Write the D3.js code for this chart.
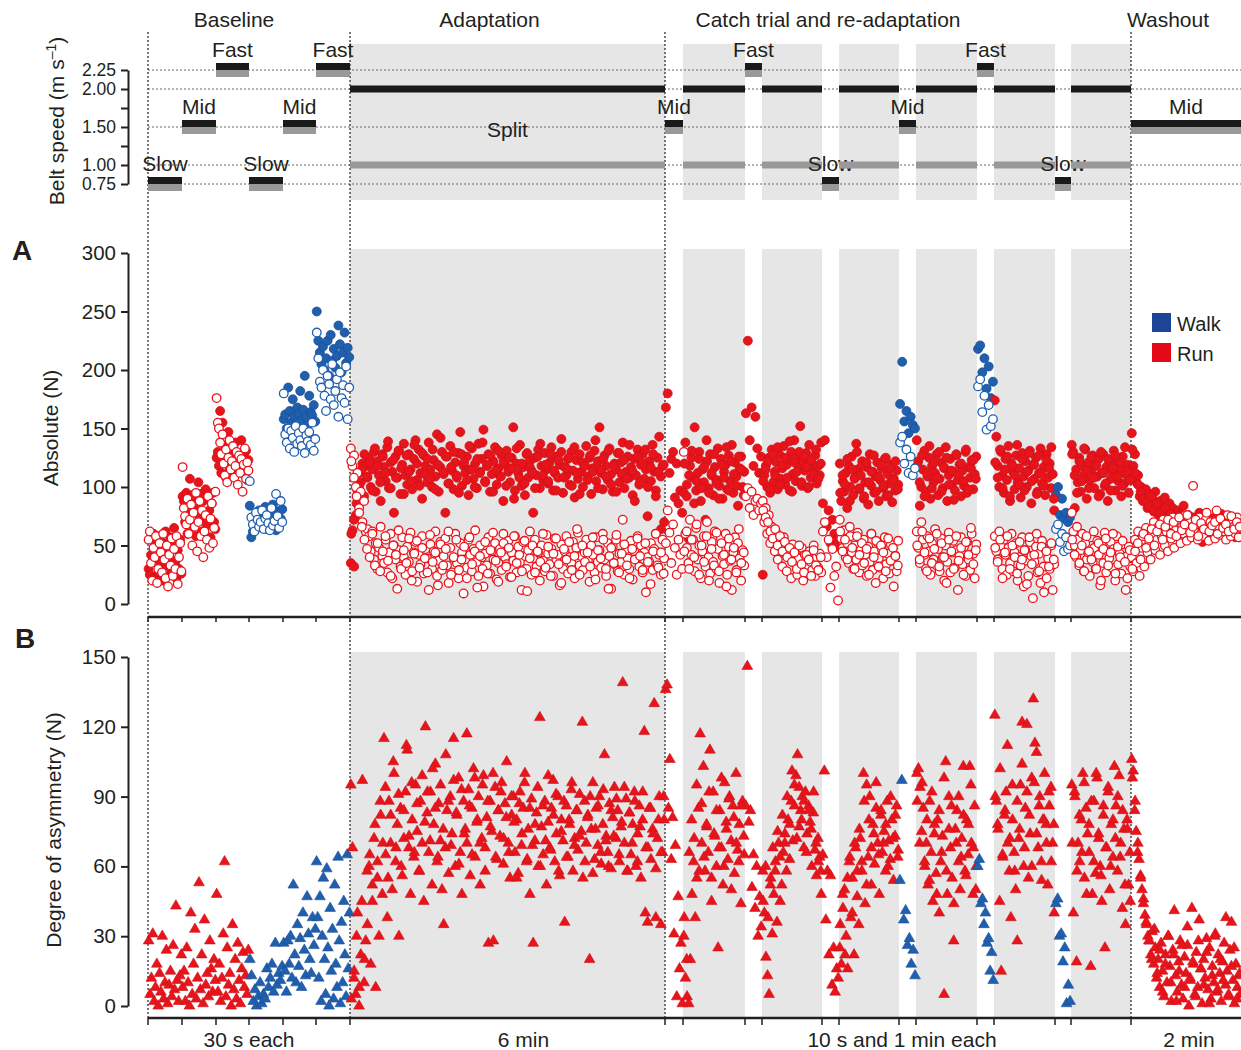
<!DOCTYPE html>
<html>
<head>
<meta charset="utf-8">
<script src="https://cdn.jsdelivr.net/npm/d3@7"></script>
<style>
  body { margin: 0; background: #fff; }
  svg text { font-family: "Liberation Sans", Arial, sans-serif; fill: #231f20; }
</style>
</head>
<body>
<svg id="chart" width="1241" height="1050"></svg>
<script>
// ---- segments (width in strides), belt speeds, gait ----
const segLen = [34, 34, 33, 34, 33, 34, 315, 18, 62, 17, 60, 17, 60, 17, 61, 17, 61, 16, 60, 110];
const segFast = [0.75, 1.5, 2.25, 0.75, 1.5, 2.25, 2, 1.5, 2, 2.25, 2, 0.75, 2, 1.5, 2, 2.25, 2, 0.75, 2, 1.5];
const segSlow = [0.75, 1.5, 2.25, 0.75, 1.5, 2.25, 1, 1.5, 1, 2.25, 1, 0.75, 1, 1.5, 1, 2.25, 1, 0.75, 1, 1.5];
const segGait = ["run", "run", "run", "walk", "walk", "walk", "run", "run", "run", "run", "run", "run", "run",
  "walk", "run", "walk", "run", "walk", "run", "run"];
const segLabel = ["Slow", "Mid", "Fast", "Slow", "Mid", "Fast", "Split", "Mid", "", "Fast", "", "Slow", "",
  "Mid", "", "Fast", "", "Slow", "", "Mid"];

const phases = ["Baseline", "Adaptation", "Catch trial and re-adaptation", "Washout"];
const phaseFirstSeg = [0, 6, 7, 19];
const phaseDurations = ["30 s each", "6 min", "10 s and 1 min each", "2 min"];
const speedLines = [0.75, 1, 1.5, 2, 2.25];
const speedTicks = [0.75, 1, 1.25, 1.5, 1.75, 2, 2.25];
const speedTickLabels = [0.75, 1, 1.5, 2, 2.25];

// ---- panel A: absolute force (N), filled = one leg, open = other leg ----
const filledN = [
  [30,25,42,55,60,22,38,48,27,58,35,20,45,52,62,33,24,40,57,28,50,65,36,22,46,30,55,26],
  [92,88,70,95,60,85,107,78,93,66,90,58,82,104,75,94,62,88,72,98,67,91,80,57,86,95,70,64],
  [125,130,118,165,112,155,122,135,108,128,147,115,120,132,126,110,138,119,124,129,113,140,121,127,116,131,106,123],
  [84,57,62,70,75,68,80,72,65,78,83,64,71,76,69,85,74,63,79,67,73,81],
  [158,162,150,185,165,155,175,160,152,168,163,182,157,166,195,160,153,178,164,161,170,156],
  [250,225,215,205,220,200,210,225,195,230,208,218,202,212,238,222,198,215,232,206,219,211],
  [35,63,32,76,97,112,104,120,92,118, 108,125,100,115,130,96,122,110,88,128,
   117,105,134,99,121,113,78,126,108,131, 94,119,137,110,102,128,115,98,124,140,
   106,132,112,90,127,118,104,138,115,100, 123,109,145,96,117,130,111,78,126,103,
   135,114,98,121,108,129,147,101,118,112, 126,93,115,133,107,120,99,137,113,124,
   149,105,118,128,96,111,122,134,102,116, 109,127,88,119,131,113,104,125,151,97,
   120,112,136,101,117,93,128,108,122,114, 78,125,110,132,99,118,106,129,115,103,
   121,134,97,112,126,108,119,141,95,117, 110,124,102,130,114,91,123,107,128,113,
   100,119,135,109,125,94,116,131,105,122, 151,112,98,127,118,106,133,111,96,120,
   115,129,104,121,138,99,113,126,108,117, 93,124,110,132,102,119,128,107,115,75,
   122,105,136,113,97,125,143,109,118,70],
  [168,180,112,124,130,91,120,86,97,78],
  [95,138,102,56,118,125,108,151,97,112,130,88,115,104,72,122,99,128,110,93,117,106,133,101,124,90,113,119,98,127,105,136,95,121,109,84,116,126,100,113],
  [163,225,140,168,118,160,133,112,126],
  [25,110,118,100,125,95,132,104,113,121,98,128,107,116,135,102,119,124,97,130,111,140,105,126,117,152,101,122,114,129,99,136,108,120,113,127,103,118,110,138],
  [86,140,66,80,52,72,60,49,56],
  [120,88,105,96,112,82,118,100,126,93,108,137,115,98,110,122,90,104,117,85,128,101,113,95,109,121,88,106,116,99,124,92,111,103,119,87,107,97,114,102],
  [171,207,156,165,146,160,153,150],
  [140,122,84,100,115,131,96,109,125,90,118,104,112,128,93,107,121,99,116,134,88,110,124,102,113,97,127,106,119,92,114,101,130,95,117,108,123,98,111,126],
  [218,221,198,210,184,203,176,190],
  [174,143,118,100,130,110,95,124,106,135,88,120,113,98,127,104,116,91,129,109,122,100,114,131,86,119,107,125,96,112,133,103,117,93,128,108,120,99,111,80],
  [93,100,76,90,73,78,70,74],
  [136,130,82,115,104,125,96,118,110,132,90,121,106,114,127,99,119,109,124,94,112,128,101,117,88,122,107,113,131,97,120,105,116,92,126,103,111,119,95,108],
  [146,118,128,104,110,92,100,88,95,98,82,94,86,90,79,96,85,76,88,84,80,91,74,78,86,70,82,75,68,80,73,77,65,84,71,
   62,76,69,58,74,66,72,64,78,70,53,67,75,62,71,68,60,73,66,59,70,64,77,61,68,72,58,66,74,63,69,57,71,65,62]
];
const openN = [
  [55,62,35,20,48,40,58,18,30,52,44,27,60,38,22,50,15,42,33,56,24,47,30,58,17,40,52,28],
  [117,82,75,68,90,60,72,85,50,78,66,95,45,70,88,58,80,40,62,76,55,92,48,73,86,52,65,96],
  [176,155,150,138,128,145,120,110,132,104,125,140,115,122,135,108,118,130,102,127,112,124,96,119,133,107,121,114],
  [105,74,68,62,78,72,66,70,80,64,73,76,69,63,82,67,71,94,75,65,88,70],
  [180,145,138,150,133,148,142,130,152,137,146,140,135,150,129,144,139,147,136,155,131,141],
  [232,210,190,185,200,178,165,195,188,175,205,170,182,192,160,198,176,187,172,203,158,185],
  [133,118,127,100,112,82,96,70,88,62, 64,58,45,62,38,52,30,48,66,41,
   35,55,27,44,60,22,50,38,13,46, 32,57,40,25,49,36,61,28,44,53,
   19,42,34,58,26,47,39,12,51,30, 45,62,24,37,53,29,41,56,33,18,
   48,27,39,60,35,22,52,44,9,38, 31,55,42,28,47,63,36,24,50,40,
   15,43,33,57,26,45,38,52,21,35, 47,29,60,40,34,54,23,44,37,58,
   27,49,36,12,53,41,30,46,62,25, 39,55,32,44,20,50,37,28,59,43,
   34,47,24,56,38,42,16,51,30,45, 58,26,40,35,53,22,48,61,33,41,
   29,44,55,37,19,50,42,27,57,36, 46,31,60,38,24,52,41,13,49,34,
   55,28,43,36,72,25,47,39,30,54, 21,45,38,58,32,50,27,44,10,40,
   36,52,29,47,60,33,42,25,55,39],
  [52,80,61,35,68,48,25,55,42,30],
  [130,60,48,35,72,42,55,28,65,38,50,22,45,58,32,70,40,26,53,36,62,30,47,18,56,41,34,60,25,49,37,12,44,57,29,52,39,20,46,33],
  [92,99,82,96,76,88,90,80,86],
  [88,70,82,60,76,52,66,58,45,61,38,55,49,32,57,43,28,47,40,22,51,35,44,25,39,30,48,20,42,33,26,45,36,29,50,24,40,31,43,27],
  [62,70,40,55,14,47,24,32,3],
  [72,56,48,63,40,52,35,58,44,30,50,38,61,27,46,33,55,42,24,49,36,60,29,45,18,53,39,31,47,22,57,34,43,26,51,37,15,41,28,54],
  [138,143,120,132,112,126,110,116],
  [62,48,35,70,55,42,30,58,45,25,52,38,64,33,47,28,56,40,20,50,36,61,27,44,54,31,46,12,41,57,34,49,24,53,38,29,60,43,22,51],
  [186,192,164,178,149,170,152,158],
  [58,45,38,62,50,30,55,42,25,48,35,60,28,44,52,20,40,33,57,15,46,37,24,53,41,5,36,49,27,43,18,54,32,47,22,39,30,50,12,34],
  [64,68,53,60,45,57,47,50],
  [78,62,50,40,55,33,46,60,28,52,38,44,24,57,36,48,30,54,42,16,50,35,61,27,45,39,53,31,47,20,58,34,43,26,51,37,12,41,49,32],
  [40,28,55,35,62,24,48,58,32,65,44,52,38,60,70,46,55,66,42,58,72,50,62,45,68,56,74,48,63,58,70,52,66,60,76,
   54,64,71,57,101,62,68,55,74,60,66,58,72,63,54,70,61,67,56,80,64,59,73,62,68,55,76,63,58,71,66,60,74,57,65]
];
// extra strides read between the ones above (split-belt and washout periods)
const filledMore = [[],[],[],[],[],[],
  [60,72,86,101,115,128,109,121,97,133, 118,104,126,112,139,99,123,108,131,116,
   94,127,113,105,136,120,101,129,111,124, 107,132,98,119,142,113,126,103,117,130,
   110,95,128,121,106,135,115,100,124,112, 138,104,119,127,96,114,131,109,122,101,
   125,116,90,133,108,120,103,129,117,112, 99,126,137,110,119,105,128,114,97,123,
   130,108,116,125,101,134,112,94,121,118, 106,127,113,140,99,115,124,109,131,102,
   118,96,129,111,123,107,136,114,88,126, 104,120,132,100,117,128,92,113,64,119],
  [],
  [120,92,110,131,86,105,124,99,117,140,95,112,128,103,90,119,108,134,97,122,111,101,126,115,93],
  [],
  [105,115,122,98,128,110,134,102,119,125,108,139,96,121,113,130,104,126,117,100,123,111,132,107,120],
  [],
  [95,110,102,124,88,115,107,130,99,118,92,121,104,113,127,96,109,119,101,125,93,116,106,122,98],
  [],
  [118,104,127,92,112,135,99,121,108,130,96,117,125,102,114,89,128,110,120,105,132,98,116,123,107],
  [],
  [121,108,132,99,115,126,92,118,110,136,102,124,97,113,129,105,119,94,127,111,101,123,116,134,90],
  [],
  [128,110,95,122,105,133,114,99,126,108,118,92,130,112,103,124,97,116,127,109,121,101,134,113,106],
  [132,112,102,96,90,87,83,92,80,86,78,74,82,70,77,72,66,75,69,63,73,67,60,71,65,68,62,70,58,66,74,61,69,64,72,59,67,63,70,60]
];
const openMore = [[],[],[],[],[],[],
  [122,108,92,78,66,55,47,40,60,33, 52,28,45,58,37,24,50,42,63,30,
   46,35,56,20,43,54,31,48,39,27, 59,36,44,16,51,33,47,62,25,40,
   55,29,38,49,22,57,34,45,14,41, 30,53,26,46,61,37,19,44,52,32,
   48,23,58,35,42,28,54,11,39,50, 27,45,36,60,31,49,24,43,56,34,
   18,47,38,53,29,41,64,25,50,36, 44,32,57,21,46,39,55,30,13,48,
   35,59,27,43,51,33,22,47,38,56, 41,29,52,36,17,45,60,31,44,26],
  [],
  [45,62,30,55,40,68,25,50,36,58,20,47,33,61,28,52,42,15,56,38,48,27,64,35,44],
  [],
  [80,74,70,62,56,64,50,58,45,53,40,48,36,44,30,50,34,27,42,38,24,46,33,29,40],
  [],
  [62,45,55,38,66,48,30,58,42,52,35,47,25,60,40,54,32,50,44,28,56,37,48,41,33],
  [],
  [50,38,62,44,28,56,35,47,60,32,52,40,18,55,45,30,58,37,48,25,53,42,65,34,46],
  [],
  [48,36,55,22,44,58,30,50,40,26,53,38,46,17,57,34,42,60,28,49,10,45,32,52,38],
  [],
  [55,42,66,35,50,28,58,45,38,62,30,52,20,47,56,33,44,60,26,49,40,54,36,22,46],
  [30,45,52,38,60,48,56,64,50,62,68,55,66,72,60,70,58,74,63,68,76,61,66,72,58,69,64,78,62,67,70,60,73,65,68,62,75,64,70,66]
];

// ---- panel B: degree of asymmetry (N) ----
const asymN = [
  [28,5,12,31,2,8,18,0,14,6,30,3,10,24,1,9,15,4,26,7,43,11,2,13,22],
  [8,15,2,25,10,0,40,5,18,33,3,12,53,7,22,1,37,9,14,4,28,16,6,20,11],
  [48,6,18,2,12,31,62,4,25,9,14,0,35,7,20,3,27,11,1,16,23,8,13,5,24],
  [20,13,2,7,0,4,10,1,5,3,16,8,12,18,6,27,9,14,11,17],
  [27,15,6,28,18,30,12,52,22,10,35,17,29,8,40,24,13,47,31,20,14,38,26,33],
  [62,38,12,47,2,30,55,20,5,59,25,0,42,15,33,3,52,18,8,64,28,1,36,10,45,22,4,65,16,40],
  [95,68,15,5,40,0,22,97,10,28, 35,60,18,45,72,8,55,30,82,48,
   115,65,38,88,70,50,100,62,78,30, 85,56,72,92,110,68,48,80,64,95,
   75,58,88,70,45,120,83,66,92,52, 78,104,62,87,71,50,35,68,84,57,
   90,74,115,60,82,98,66,48,88,76, 70,93,56,85,102,64,79,90,52,72,
   99,68,81,27,88,75,28,94,63,84, 73,96,61,87,105,70,55,82,90,66,
   80,57,92,69,85,100,62,76,48,89, 27,71,83,60,124,77,65,88,52,79,
   68,85,97,62,74,90,56,80,71,36, 86,64,78,93,58,72,84,67,91,75,
   55,88,70,82,20,76,96,63,85,69, 90,61,78,108,73,66,87,59,81,94,
   72,84,62,77,139,70,89,58,83,65, 78,92,60,74,86,55,80,118,68,36,
   85,63,76,130,59,72,90,35,66,80],
  [136,138,85,106,63,81,31,69,4,47,16,27,1],
  [30,12,4,1,20,48,62,38,55,85,117,70,103,58,77,66,110,45,92,73,60,25,84,68,52,96,79,63,90,71,86,57,100,67,78,44,88,65],
  [86,146,79,84,51,65,42,60,30,47,34],
  [58,40,21,13,5,55,31,48,62,36,70,45,52,66,74,58,80,63,88,71,95,99,108,77,84,90,68,92,74,86,79,60,83,67,56,72,64,48],
  [65,101,37,58,22,56,9,25,6,16,12],
  [25,18,42,50,30,16,62,38,55,22,68,47,35,72,58,100,44,95,64,90,52,78,61,85,70,48,82,66,75,58,88,71,63,80,54,73,86,67],
  [54,97,37,41,26,29,18,24,13],
  [100,102,94,75,85,60,70,52,88,66,45,78,57,80,40,62,73,5,105,48,90,68,55,28,76,84,62,50,72,103,58,80,65,103,70,48,86,60],
  [60,63,44,46,35,40,27,29,15,23,11],
  [125,88,76,45,15,64,82,92,70,58,38,80,66,50,28,72,95,122,60,85,121,55,74,98,132,113,109,68,90,62,80,100,78,52,86,94,70,40],
  [44,46,30,31,19,25,1,9,2],
  [95,40,90,19,70,62,80,100,55,85,74,66,17,48,88,57,98,72,60,45,82,25,68,92,50,78,64,103,86,58,99,70,42,76,35,80,52,45],
  [106,101,84,75,66,63,56,50,46,39,35,30,28,22,32,18,25,12,20,8,27,15,4,22,10,30,17,2,24,41,13,6,19,28,9,3,21,14,26,0,
   11,42,18,5,23,8,37,16,1,20,12,29,7,25,3,17,10,31,6,22,14,2,19,27,9,15,4,24,36,11,1,18,8,13,5]
];
const asymMore = [[],[],[],[],[],[],
  [3,12,30,8,45,20,58,65,52,78, 62,88,70,94,55,82,105,68,91,60,
   84,112,73,96,66,87,58,99,79,92, 71,102,85,64,95,76,108,88,69,97,
   83,61,93,74,117,86,65,98,80,70, 95,58,88,77,100,64,84,92,72,81,
   66,90,79,55,87,74,96,63,85,69, 78,94,60,86,71,99,67,82,91,58,
   75,88,64,80,96,69,84,73,122,62, 81,90,57,76,86,66,93,71,60,84,
   73,89,65,79,94,58,83,70,88,62, 77,92,40,68,85,74,38,80,66,90],
  [],
  [38,20,66,80,72,95,58,87,64,78,92,55,74,84,68,98,60,76,89,50,81,70,62,86,73],
  [],
  [45,60,38,52,68,58,75,64,82,70,90,78,101,86,72,94,80,88,66,84,76,92,70,62,58],
  [],
  [35,48,22,55,64,40,70,58,76,62,88,52,80,68,74,96,65,84,70,78,60,90,72,82,64],
  [],
  [88,70,96,62,80,54,92,74,48,84,66,98,58,76,86,44,70,90,64,82,56,78,95,68,50],
  [],
  [90,78,102,65,84,112,72,95,58,88,76,104,68,92,82,60,96,74,86,54,80,70,92,62,78],
  [],
  [70,92,58,82,66,96,48,78,88,62,100,74,56,86,68,94,60,80,72,90,64,84,52,76,66],
  [98,88,70,55,44,36,28,20,33,14,24,6,18,30,10,22,2,15,26,8,34,12,19,4,28,16,9,23,1,13,30,7,20,11,38,5,17,25,3,14]
];

// ---- layout ----
const svg = d3.select("#chart");
const fill = { run: "#e8141b", walk: "#1f5fae" };
const edge = { run: "#cf1018", walk: "#1a4f98" };
const legendFill = { walk: "#1c4598", run: "#e30a17" };
const headerShift = [-15, -18, -70, -18];
const durationShift = [0, 16, 4, 3];
const fs = 21;

const starts = d3.cumsum([0, ...segLen]);
const total = d3.sum(segLen);
const x = d3.scaleLinear().domain([0, total]).range([148, 1241]);
const ySpeed = d3.scaleLinear().domain([0.75, 2.25]).range([184, 70]);
const yAbs = d3.scaleLinear().domain([0, 300]).range([604, 253]);
const yAsym = d3.scaleLinear().domain([0, 150]).range([1006, 657]);
const bands = [[44, 200], [249, 617], [652, 1018]];

const segIdx = d3.range(segLen.length);
const splitSegs = segIdx.filter(i => segFast[i] !== segSlow[i]);
const phaseMid = k => {
  let a = starts[phaseFirstSeg[k]];
  let b = k < phases.length - 1 ? starts[phaseFirstSeg[k + 1]] : total;
  return x((a + b) / 2);
};

// grey shading for split-belt periods
bands.forEach(([y0, y1]) => {
  svg.append("g").selectAll("rect")
    .data(splitSegs)
    .join("rect")
    .attr("x", i => x(starts[i]))
    .attr("width", i => x(starts[i + 1]) - x(starts[i]))
    .attr("y", y0)
    .attr("height", y1 - y0)
    .attr("fill", "#e6e6e6");
});

// dotted speed reference lines
svg.append("g").selectAll("line")
  .data(speedLines)
  .join("line")
  .attr("x1", x(0)).attr("x2", x(total))
  .attr("y1", d => ySpeed(d)).attr("y2", d => ySpeed(d))
  .attr("stroke", "#666").attr("stroke-width", 1)
  .attr("stroke-dasharray", "2,2");

// phase boundaries
svg.append("g").selectAll("line")
  .data(phaseFirstSeg)
  .join("line")
  .attr("x1", i => x(starts[i])).attr("x2", i => x(starts[i]))
  .attr("y1", 32).attr("y2", 1018)
  .attr("stroke", "#222").attr("stroke-width", 1.2)
  .attr("stroke-dasharray", "2,2");

// phase headers
svg.append("g").selectAll("text")
  .data(phases)
  .join("text")
  .attr("x", (d, k) => phaseMid(k) + headerShift[k])
  .attr("y", 27)
  .attr("text-anchor", "middle")
  .attr("font-size", fs)
  .text(d => d);

// belt speed bars
const barH = 7;
const bars = svg.append("g");
segIdx.forEach(i => {
  let x0 = x(starts[i]), w = x(starts[i + 1]) - x0;
  if (segFast[i] === segSlow[i]) {
    let sy = ySpeed(segFast[i]);
    bars.append("rect").attr("x", x0).attr("width", w).attr("y", sy - barH).attr("height", barH).attr("fill", "#1a1a1a");
    bars.append("rect").attr("x", x0).attr("width", w).attr("y", sy).attr("height", barH).attr("fill", "#999");
  } else {
    bars.append("rect").attr("x", x0).attr("width", w).attr("y", ySpeed(segFast[i]) - barH / 2).attr("height", barH).attr("fill", "#1a1a1a");
    bars.append("rect").attr("x", x0).attr("width", w).attr("y", ySpeed(segSlow[i]) - barH / 2).attr("height", barH).attr("fill", "#999");
  }
  if (segLabel[i]) {
    let ly = segFast[i] === segSlow[i] ? ySpeed(segFast[i]) - barH - 6 : ySpeed(1.5) + 10;
    bars.append("text")
      .attr("x", x0 + w / 2).attr("y", ly)
      .attr("text-anchor", "middle").attr("font-size", fs)
      .text(segLabel[i]);
  }
});

// ---- axes ----
function styleAxis(size) {
  return g => {
    g.select(".domain").attr("stroke", "#231f20").attr("stroke-width", 2);
    g.selectAll(".tick line").attr("stroke", "#231f20").attr("stroke-width", 2);
    g.selectAll(".tick text").attr("font-size", size).attr("fill", "#231f20")
      .attr("font-family", "Liberation Sans, Arial, sans-serif");
  };
}

svg.append("g")
  .attr("transform", "translate(128,0)")
  .call(d3.axisLeft(ySpeed).tickValues(speedTicks).tickSize(7).tickSizeOuter(0).tickPadding(5)
    .tickFormat(d => speedTickLabels.includes(d) ? d3.format(".2f")(d) : ""))
  .call(styleAxis(17.5));

svg.append("g")
  .attr("transform", "translate(128,0)")
  .call(d3.axisLeft(yAbs).tickValues(d3.range(0, 301, 50)).tickSize(7).tickSizeOuter(0).tickPadding(5))
  .call(styleAxis(20.5));

svg.append("g")
  .attr("transform", "translate(128,0)")
  .call(d3.axisLeft(yAsym).tickValues(d3.range(0, 151, 30)).tickSize(7).tickSizeOuter(0).tickPadding(5))
  .call(styleAxis(20.5));

// horizontal time axes (segment boundaries)
const boundaries = segIdx.map(i => starts[i]);
[[617, 5], [1018, 7]].forEach(([yy, len]) => {
  let g = svg.append("g").attr("transform", `translate(0,${yy})`);
  g.append("line").attr("x1", x(0)).attr("x2", x(total)).attr("stroke", "#231f20").attr("stroke-width", 2.5);
  g.selectAll("line.t").data(boundaries).join("line").attr("class", "t")
    .attr("x1", d => x(d)).attr("x2", d => x(d)).attr("y1", 0).attr("y2", len)
    .attr("stroke", "#231f20").attr("stroke-width", 1.5);
});

svg.append("g").selectAll("text")
  .data(phaseDurations)
  .join("text")
  .attr("x", (d, k) => phaseMid(k) + durationShift[k])
  .attr("y", 1047)
  .attr("text-anchor", "middle")
  .attr("font-size", fs)
  .text(d => d);

// axis titles
const speedTitle = svg.append("text")
  .attr("transform", "translate(64,121) rotate(-90)")
  .attr("text-anchor", "middle").attr("font-size", fs);
speedTitle.append("tspan").text("Belt speed (m s");
speedTitle.append("tspan").attr("dy", -8).attr("font-size", 14).text("–1");
speedTitle.append("tspan").attr("dy", 8).text(")");

svg.append("text").attr("transform", "translate(58,428) rotate(-90)")
  .attr("text-anchor", "middle").attr("font-size", fs).text("Absolute (N)");
svg.append("text").attr("transform", "translate(61,830) rotate(-90)")
  .attr("text-anchor", "middle").attr("font-size", fs).text("Degree of asymmetry (N)");

svg.append("text").attr("x", 12).attr("y", 260).attr("font-size", 28).attr("font-weight", "bold").text("A");
svg.append("text").attr("x", 15).attr("y", 648).attr("font-size", 28).attr("font-weight", "bold").text("B");

// ---- points ----
function spread(series) {
  let pts = [];
  series.forEach((vals, i) => {
    vals.forEach((v, j) => {
      pts.push({ x: x(starts[i] + (j + 0.5) / vals.length * segLen[i]), v: v, gait: segGait[i] });
    });
  });
  return pts;
}

const filledPts = spread(filledN).concat(spread(filledMore));
const openPts = spread(openN).concat(spread(openMore));
const asymPts = spread(asymN).concat(spread(asymMore));

svg.append("g").selectAll("circle")
  .data(filledPts)
  .join("circle")
  .attr("cx", d => d.x).attr("cy", d => yAbs(d.v)).attr("r", 4.5)
  .attr("fill", d => fill[d.gait]).attr("stroke", d => edge[d.gait]).attr("stroke-width", 0.8);

svg.append("g").selectAll("circle")
  .data(openPts)
  .join("circle")
  .attr("cx", d => d.x).attr("cy", d => yAbs(d.v)).attr("r", 4.3)
  .attr("fill", "#fff").attr("stroke", d => fill[d.gait]).attr("stroke-width", 1.3);

const tri = d3.symbol().type(d3.symbolTriangle).size(50);
svg.append("g").selectAll("path")
  .data(asymPts)
  .join("path")
  .attr("d", tri)
  .attr("transform", d => `translate(${d.x},${yAsym(d.v)})`)
  .attr("fill", d => fill[d.gait]).attr("stroke", d => edge[d.gait]).attr("stroke-width", 0.6);

// ---- legend ----
const legend = svg.append("g").attr("transform", "translate(1152,313)");
["walk", "run"].forEach((g, k) => {
  legend.append("rect").attr("x", 0).attr("y", k * 30).attr("width", 19).attr("height", 19).attr("fill", legendFill[g]);
  legend.append("text").attr("x", 25).attr("y", k * 30 + 18).attr("font-size", 20)
    .text(g === "walk" ? "Walk" : "Run");
});
</script>
</body>
</html>
